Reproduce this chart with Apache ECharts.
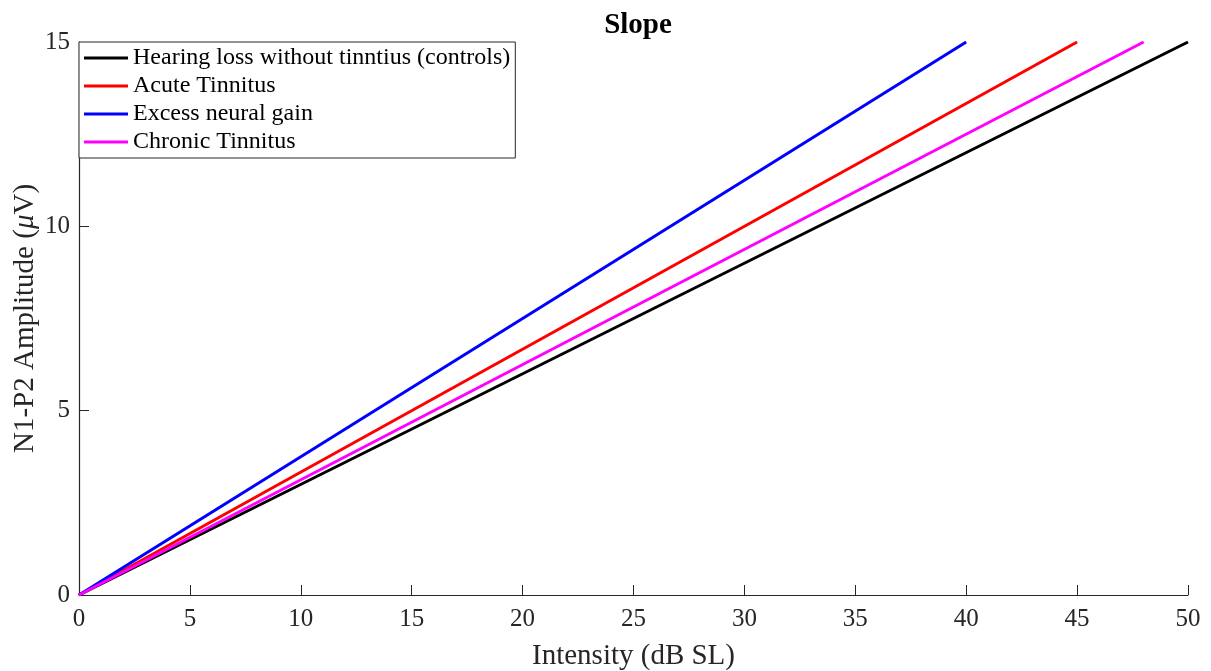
<!DOCTYPE html>
<html>
<head>
<meta charset="utf-8">
<script src="https://cdn.jsdelivr.net/npm/echarts@6/dist/echarts.min.js"></script>
<style>html,body{margin:0;padding:0;background:#fff}#c{width:1211px;height:671px}</style>
</head>
<body>
<div id="c"></div>
<script>
const seriesNames = ['Hearing loss without tinntius (controls)', 'Acute Tinnitus', 'Excess neural gain', 'Chronic Tinnitus'];
const seriesColors = ['#000000', '#ff0000', '#0000ff', '#ff00ff'];
const intensityStart = [0, 0, 0, 0];
const intensityEnd = [50, 45, 40, 48];
const amplitudeStart = [0, 0, 0, 0];
const amplitudeEnd = [15, 15, 15, 15];
const xTicks = [0, 5, 10, 15, 20, 25, 30, 35, 40, 45, 50];
const yTicks = [0, 5, 10, 15];

const font = 'Liberation Serif';
const axisColor = '#262626';
const chart = echarts.init(document.getElementById('c'));
chart.setOption({
  animation: false,
  backgroundColor: '#fff',
  title: {
    text: 'Slope', left: 633, top: 6, textAlign: 'center',
    textStyle: { fontFamily: font, fontWeight: 'bold', fontSize: 29, color: '#000' }
  },
  grid: { left: 79, right: 23, top: 42, bottom: 76, containLabel: false, outerBoundsMode: 'none' },
  legend: {
    orient: 'vertical', left: 79, top: 42,
    padding: [4, 5, 4, 5],
    itemGap: 4, itemWidth: 44, itemHeight: 24,
    icon: 'path://M0,0 L44,0 L44,3 L0,3 Z',
    borderColor: axisColor, borderWidth: 1, backgroundColor: '#fff',
    textStyle: { fontFamily: font, fontSize: 24, color: '#000' },
    data: seriesNames
  },
  xAxis: {
    type: 'value', min: xTicks[0], max: xTicks[xTicks.length - 1], interval: 5,
    name: 'Intensity (dB SL)', nameLocation: 'middle', nameGap: 47,
    nameTextStyle: { fontFamily: font, fontSize: 29, color: axisColor },
    axisLine: { show: true, lineStyle: { color: axisColor, width: 1.2 } },
    axisTick: { show: true, inside: true, length: 10, lineStyle: { color: axisColor } },
    axisLabel: { fontFamily: font, fontSize: 25, color: axisColor, margin: 12 },
    splitLine: { show: false }
  },
  yAxis: {
    type: 'value', min: yTicks[0], max: yTicks[yTicks.length - 1], interval: 5,
    name: 'N1-P2 Amplitude ({i|μ}V)', nameLocation: 'middle', nameGap: 39, nameMoveOverlap: false,
    nameTextStyle: { fontFamily: font, fontSize: 29, color: axisColor,
      rich: { i: { fontFamily: font, fontSize: 29, fontStyle: 'italic', color: axisColor } } },
    axisLine: { show: true, lineStyle: { color: axisColor, width: 1.2 } },
    axisTick: { show: true, inside: true, length: 10, lineStyle: { color: axisColor } },
    axisLabel: { fontFamily: font, fontSize: 25, color: axisColor, margin: 9 },
    splitLine: { show: false }
  },
  series: seriesNames.map((n, i) => ({
    name: n, type: 'line', showSymbol: false, symbol: 'none',
    color: seriesColors[i],
    lineStyle: { width: 3, color: seriesColors[i] },
    data: [[intensityStart[i], amplitudeStart[i]], [intensityEnd[i], amplitudeEnd[i]]],
    z: 2 + i
  }))
});
</script>
</body>
</html>
